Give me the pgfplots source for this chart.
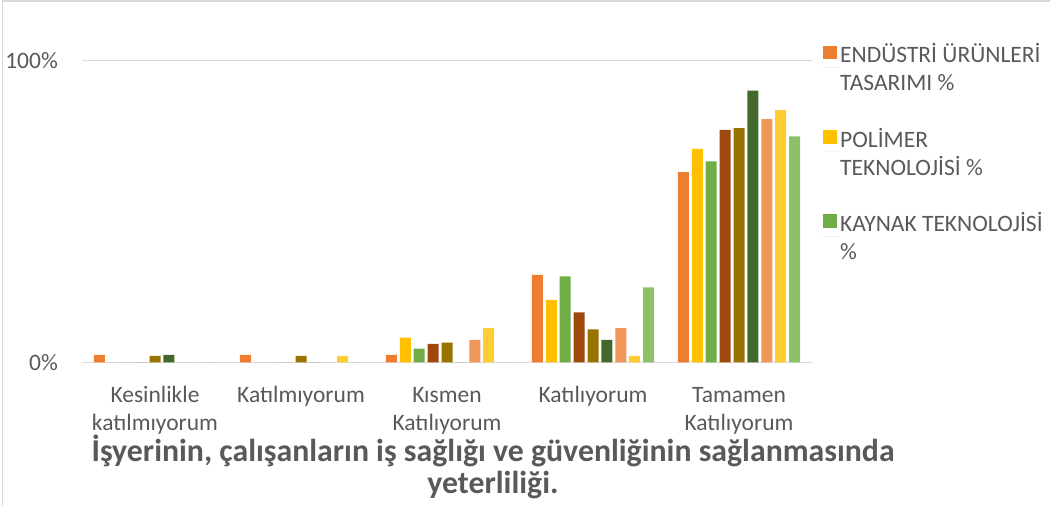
\documentclass[border=0pt]{standalone}
\usepackage{fontspec}
\setmainfont{Carlito}
\usepackage{pgfplots}
\pgfplotsset{compat=1.18}
\definecolor{textgray}{HTML}{595959}
\definecolor{gridgray}{HTML}{D9D9D9}
\definecolor{c1}{HTML}{ED7D31}
\definecolor{c2}{HTML}{FFC000}
\definecolor{c3}{HTML}{70AD47}
\definecolor{c4}{HTML}{9E480E}
\definecolor{c5}{HTML}{997300}
\definecolor{c6}{HTML}{43682B}
\definecolor{c7}{HTML}{F1975A}
\definecolor{c8}{HTML}{FFCD33}
\definecolor{c9}{HTML}{8CC168}
\newcommand{\tickfont}{\fontsize{23.5}{28}\selectfont}
\newcommand{\titlefont}{\fontsize{31.8}{31.7}\selectfont\bfseries}
\begin{document}
\begin{tikzpicture}[x=1pt,y=1pt]
\useasboundingbox (0,0) rectangle (1050,506);
\clip (0,0) rectangle (1050,506);
\draw[gridgray, line width=1.5pt] (2.5,505.2) -- (1100,505.2);
\draw[gridgray, line width=1.5pt] (2.5,506) -- (2.5,-10);
\begin{axis}[
  at={(82pt,143.5pt)}, anchor=south west,
  scale only axis, width=730pt, height=302pt,
  xmin=-0.5, xmax=4.5, ymin=0, ymax=100,
  ybar=2.9pt, bar width=11pt,
  axis line style={draw=none},
  major tick length=0pt,
  ymajorgrids,
  major grid style={gridgray, line width=1.3pt},
  ytick={0,100}, yticklabels={0\%,100\%},
  xtick={0,1,2,3,4},
  xticklabels={\vphantom{Kl}Kesinlikle\\katılmıyorum,\vphantom{Kl}Katılmıyorum,\vphantom{Kl}Kısmen\\Katılıyorum,\vphantom{Kl}Katılıyorum,\vphantom{Kl}Tamamen\\Katılıyorum},
  xticklabel style={font=\tickfont, text=textgray, align=center, inner sep=0pt, anchor=north, yshift=-23pt},
  yticklabel style={font=\tickfont, text=textgray, anchor=east, inner sep=0pt, xshift=-24pt},
  legend entries={\strut ENDÜSTRİ ÜRÜNLERİ\\\strut TASARIMI \%, \strut POLİMER\\\strut TEKNOLOJİSİ \%, \strut KAYNAK TEKNOLOJİSİ\\\strut\%},
  legend style={at={(axis description cs:1.01507,1.0576)}, anchor=north west, draw=none, fill=none, inner sep=0pt,
    font=\tickfont, text=textgray, row sep=35pt, nodes={inner sep=0pt, align=left, draw=none, fill=none}},
  legend cell align=left,
  legend image code/.code={\fill[#1,draw=none] (0pt,8.4pt) rectangle (13.5pt,21.9pt); \path (0pt,0pt) -- (17pt,0pt);},
]
\addplot[fill=c1, draw=none] coordinates {(0,2.5) (1,2.5) (2,2.5) (3,29.0) (4,63.0)};
\addplot[fill=c2, draw=none] coordinates {(0,0) (1,0) (2,8.2) (3,20.7) (4,70.7)};
\addplot[fill=c3, draw=none] coordinates {(0,0) (1,0) (2,4.6) (3,28.5) (4,66.6)};
\addplot[fill=c4, draw=none] coordinates {(0,0) (1,0) (2,6.2) (3,16.6) (4,77.0)};
\addplot[fill=c5, draw=none] coordinates {(0,2.2) (1,2.2) (2,6.6) (3,11.0) (4,77.6)};
\addplot[fill=c6, draw=none] coordinates {(0,2.5) (1,0) (2,0) (3,7.5) (4,90.0)};
\addplot[fill=c7, draw=none] coordinates {(0,0) (1,0) (2,7.5) (3,11.4) (4,80.6)};
\addplot[fill=c8, draw=none] coordinates {(0,0) (1,2.2) (2,11.5) (3,2.2) (4,83.6)};
\addplot[fill=c9, draw=none] coordinates {(0,0) (1,0) (2,0) (3,24.9) (4,74.9)};
\end{axis}
\node[anchor=base, font=\titlefont, text=textgray, align=center, inner sep=0pt] at (493,12.7) {İşyerinin, çalışanların iş sağlığı ve güvenliğinin sağlanmasında\\yeterliliği.};
\end{tikzpicture}
\end{document}
